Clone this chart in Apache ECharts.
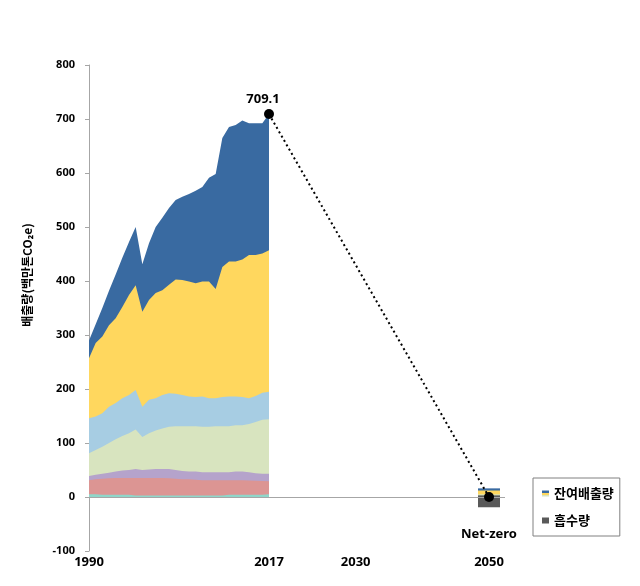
<!DOCTYPE html>
<html>
<head>
<meta charset="utf-8">
<script src="https://cdn.jsdelivr.net/npm/echarts@6/dist/echarts.min.js"></script>
<style>html,body{margin:0;padding:0;background:#fff;}#chart{width:640px;height:586px;}</style>
</head>
<body>
<div id="chart"></div>
<script>
// ---- data (million tonnes CO2e) ----
const years = [1990,1991,1992,1993,1994,1995,1996,1997,1998,1999,2000,2001,2002,2003,2004,2005,2006,2007,2008,2009,2010,2011,2012,2013,2014,2015,2016,2017];
const layerTeal   = [5,5,4,4,4,4,4,3,3,3,3,3,3,3,3,3,3,3,3,3,3,4,4,4,4,4,4,5];
const layerRed    = [26,28,30,30.5,31,31,31,32,32,32,32,32,31.5,31,30,30,29,28,28,28,28,27,27,27,26.5,26,25.5,24];
const layerPurple = [8,8,9,10.5,12,14,15,17,15,16,17,17,17.5,16,15,14,15,15,15,15,15,15,16,16,15.5,14,13.5,14];
const layerGreen  = [42,46,50,55,60,64,68,73,61,67,71,75,78,81,83,84,84,84,84,85,85,85,86,86,89,95,100,101];
const layerLBlue  = [65,62,62,67,67,70,71,73,56,62,60,62,62,60,58,55,54,56,53,52,54,55,53,52,48,48,50,51];
const layerYellow = [111,136,142,151,157,169,185,194,176,185,195,194,201,212,213,213,211,213,216,202,241,250,250,255,265,261,258,262];
const layerDBlue  = [33,35,53,64,81,91,98,108,88,105,122,134,142,147,154,162,171,175,192,213,239,249,253,257,244,244,241,252.1];
const pathYears   = [2017, 2050];
const pathValues  = [709.1, 0];
const nzYear = 2050;
const residualParts = [3, 2, 7, 4];   // bottom -> top segments of remaining emissions in 2050
const absorption = -19;
const xTickValues = [1990, 2017, 2030, 2050];

const layerColors = ['#8fd6c9','#dc9593','#b5a3cb','#d8e4bf','#a7cde3','#ffd75e','#396aa1'];
const layers = [layerTeal, layerRed, layerPurple, layerGreen, layerLBlue, layerYellow, layerDBlue];
const residualColors = ['#595959','#d8e4bf','#ffd75e','#396aa1'];

const numFont = "'Noto Sans', 'Liberation Sans', sans-serif";
const krFont = "'Noto Sans CJK KR', 'Noto Sans', sans-serif";

// cumulative tops of the stacked layers
const cumulative = [];
layers.forEach((arr, i) => {
  cumulative.push(arr.map((v, k) => (i === 0 ? 0 : cumulative[i - 1][k]) + v));
});
const residualCum = [];
residualParts.forEach((v, i) => residualCum.push((i === 0 ? 0 : residualCum[i - 1]) + v));

const series = [];
// zero line
series.push({
  type: 'line', data: [], silent: true, z: 1,
  markLine: { silent: true, symbol: ['none','none'], label: {show: false},
    lineStyle: { color: '#a6a6a6', width: 1, type: 'solid' },
    data: [{ yAxis: 0 }] }
});
// draw top layer first so lower layers paint over it
for (let i = layers.length - 1; i >= 0; i--) {
  series.push({
    name: 'layer' + (i + 1), type: 'line', z: 2,
    data: years.map((y, k) => [y, cumulative[i][k]]),
    showSymbol: false, symbol: 'none',
    lineStyle: { width: 0, color: layerColors[i] },
    areaStyle: { color: layerColors[i], opacity: 1 },
    itemStyle: { color: layerColors[i] },
    emphasis: { disabled: true }, silent: true
  });
}
for (let i = residualParts.length - 1; i >= 0; i--) {
  series.push({
    name: '잔여배출량', type: 'bar', barWidth: 22, barGap: '-100%', z: 3,
    data: [[nzYear, residualCum[i]]], itemStyle: { color: residualColors[i] }
  });
}
series.push({
  name: '흡수량', type: 'bar', barWidth: 22, barGap: '-100%', z: 3,
  data: [[nzYear, absorption]], itemStyle: { color: '#595959' }
});
series.push({
  name: 'path', type: 'line', z: 5,
  data: pathYears.map((y, k) => ({
    value: [y, pathValues[k]],
    label: k === 0
      ? { show: true, position: 'top', offset: [-6, 2], formatter: String(pathValues[k]),
          color: '#000', fontWeight: 'bold', fontSize: 13, fontFamily: numFont }
      : { show: true, position: 'bottom', distance: 26, formatter: 'Net-zero',
          color: '#000', fontWeight: 'bold', fontSize: 13, fontFamily: numFont }
  })),
  symbol: 'circle', symbolSize: 10,
  itemStyle: { color: '#000' },
  lineStyle: { color: '#000', width: 2, type: [2, 3] },
  emphasis: { disabled: true }
});

const chart = echarts.init(document.getElementById('chart'), null, { renderer: 'canvas' });
chart.setOption({
  animation: false,
  backgroundColor: '#fff',
  grid: { left: 89, right: 135, top: 65, bottom: 35, containLabel: false },
  xAxis: {
    type: 'value', min: 1990, max: 2052.4,
    axisLine: { show: false }, axisTick: { show: false }, splitLine: { show: false },
    axisLabel: { customValues: xTickValues, margin: 5, color: '#000', fontWeight: 'bold',
      fontSize: 13, fontFamily: numFont, formatter: v => String(v) }
  },
  yAxis: {
    type: 'value', min: -100, max: 800, interval: 100,
    name: '배출량(백만톤CO₂e)', nameLocation: 'middle', nameRotate: 90, nameGap: 56,
    nameTextStyle: { color: '#000', fontWeight: 'bold', fontSize: 12, fontFamily: krFont, padding: [0, 0, 0, 66] },
    axisLine: { show: true, lineStyle: { color: '#a6a6a6', width: 1 } },
    axisTick: { show: true, length: 4, lineStyle: { color: '#a6a6a6' } },
    splitLine: { show: false },
    axisLabel: { margin: 14, color: '#000', fontWeight: 'bold', fontSize: 11, fontFamily: numFont }
  },
  legend: {
    left: 533, top: 478, orient: 'vertical',
    itemWidth: 7, itemHeight: 6, itemGap: 14,
    padding: [9, 6, 9, 9],
    borderColor: '#808080', borderWidth: 1,
    textStyle: { color: '#000', fontWeight: 'bold', fontSize: 13, fontFamily: krFont },
    data: [
      { name: '잔여배출량', icon: 'rect', itemStyle: { color: {
          type: 'linear', x: 0, y: 0, x2: 0, y2: 1,
          colorStops: [ {offset: 0, color: '#396aa1'}, {offset: 0.34, color: '#396aa1'},
                        {offset: 0.34, color: '#ffd75e'}, {offset: 0.7, color: '#ffd75e'},
                        {offset: 0.7, color: '#d8e4bf'}, {offset: 1, color: '#d8e4bf'} ] } } },
      { name: '흡수량', icon: 'rect', itemStyle: { color: '#595959' } }
    ]
  },
  series: series
});
</script>
</body>
</html>
